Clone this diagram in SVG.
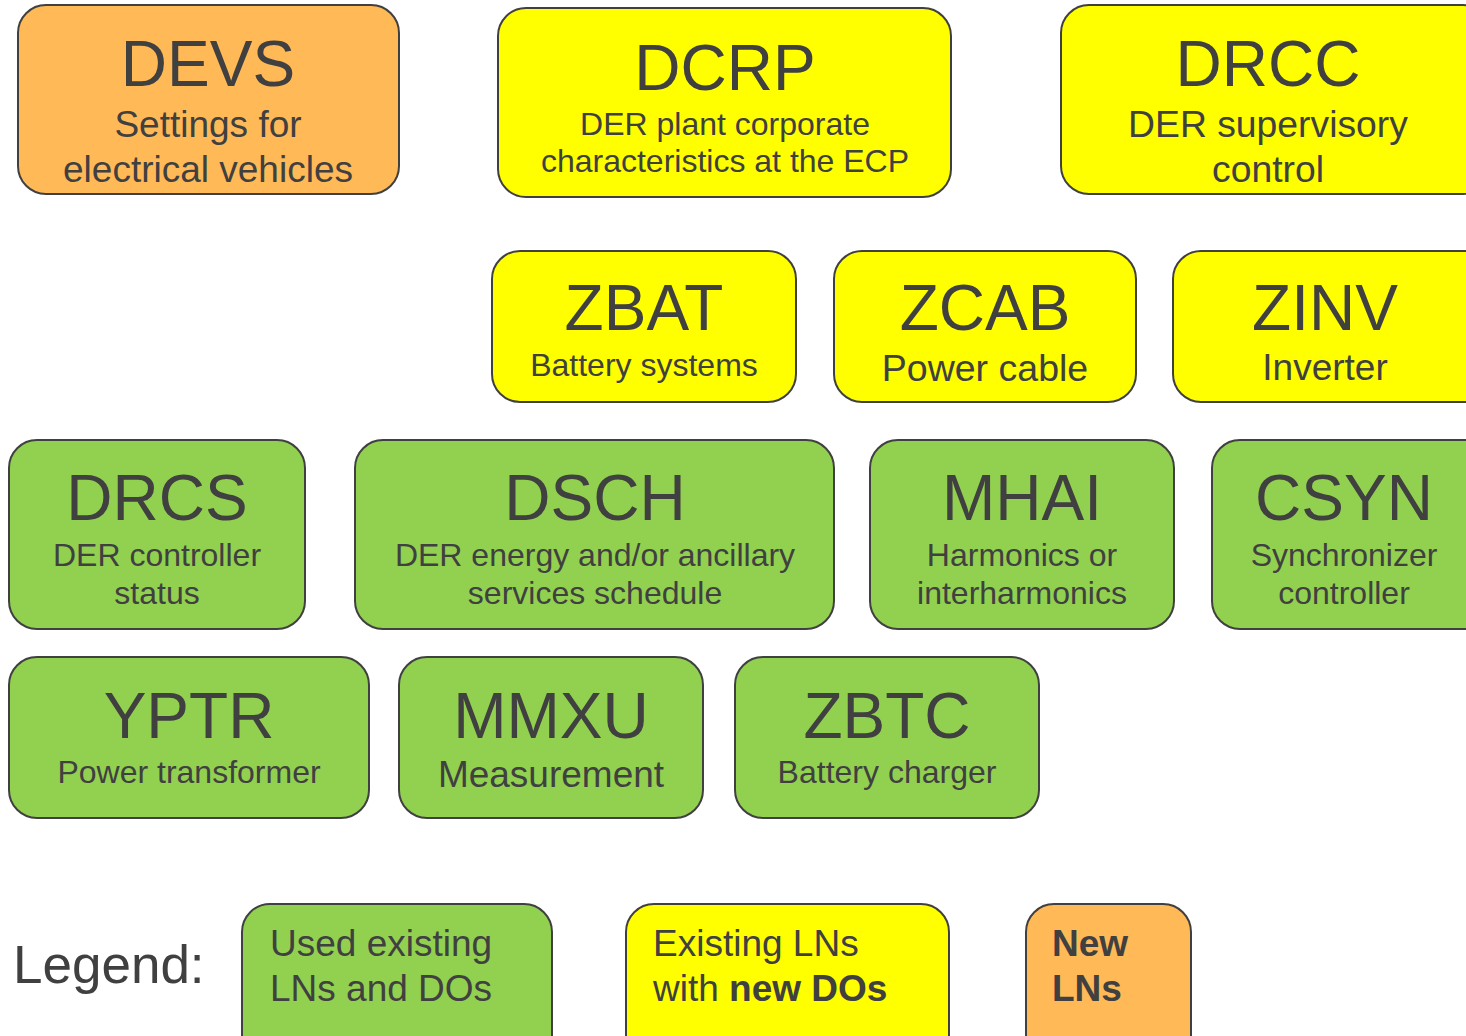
<svg xmlns="http://www.w3.org/2000/svg" width="1466" height="1036" viewBox="0 0 1466 1036">
<style>
.box{stroke:#404040;stroke-width:2}
.g{fill:#92D050}.y{fill:#FFFF00}.o{fill:#FFB957}
text{font-family:"Liberation Sans",Arial,sans-serif;fill:#404040}
.t{font-size:64px;text-anchor:middle}
.c{text-anchor:middle}
.b{font-weight:bold}
</style>
<rect width="1466" height="1036" fill="#fff"/>
<g id="DEVS"><rect class="box o" x="18" y="5" width="381" height="189" rx="28"/>
<text class="t" x="208" y="86">DEVS</text>
<text class="c" x="208" y="137" font-size="37">Settings for</text>
<text class="c" x="208" y="182" font-size="37">electrical vehicles</text></g>
<g id="DCRP"><rect class="box y" x="498" y="8" width="453" height="189" rx="28"/>
<text class="t" x="725" y="90">DCRP</text>
<text class="c" x="725" y="135" font-size="32">DER plant corporate</text>
<text class="c" x="725" y="172" font-size="32">characteristics at the ECP</text></g>
<g id="DRCC"><rect class="box y" x="1061" y="5" width="430" height="189" rx="28"/>
<text class="t" x="1268" y="86">DRCC</text>
<text class="c" x="1268" y="137" font-size="37.3">DER supervisory</text>
<text class="c" x="1268" y="182" font-size="37.3">control</text></g>
<g id="ZBAT"><rect class="box y" x="492" y="251" width="304" height="151" rx="28"/>
<text class="t" x="644" y="330">ZBAT</text>
<text class="c" x="644" y="376" font-size="32">Battery systems</text></g>
<g id="ZCAB"><rect class="box y" x="834" y="251" width="302" height="151" rx="28"/>
<text class="t" x="985" y="330">ZCAB</text>
<text class="c" x="985" y="381" font-size="37.5">Power cable</text></g>
<g id="ZINV"><rect class="box y" x="1173" y="251" width="320" height="151" rx="28"/>
<text class="t" x="1325" y="330">ZINV</text>
<text class="c" x="1325" y="380" font-size="37">Inverter</text></g>
<g id="DRCS"><rect class="box g" x="9" y="440" width="296" height="189" rx="28"/>
<text class="t" x="157" y="520">DRCS</text>
<text class="c" x="157" y="566" font-size="32">DER controller</text>
<text class="c" x="157" y="604" font-size="32">status</text></g>
<g id="DSCH"><rect class="box g" x="355" y="440" width="479" height="189" rx="28"/>
<text class="t" x="595" y="520">DSCH</text>
<text class="c" x="595" y="566" font-size="32">DER energy and/or ancillary</text>
<text class="c" x="595" y="604" font-size="32">services schedule</text></g>
<g id="MHAI"><rect class="box g" x="870" y="440" width="304" height="189" rx="28"/>
<text class="t" x="1022" y="520">MHAI</text>
<text class="c" x="1022" y="566" font-size="32">Harmonics or</text>
<text class="c" x="1022" y="604" font-size="32">interharmonics</text></g>
<g id="CSYN"><rect class="box g" x="1212" y="440" width="280" height="189" rx="28"/>
<text class="t" x="1344" y="520">CSYN</text>
<text class="c" x="1344" y="566" font-size="32">Synchronizer</text>
<text class="c" x="1344" y="604" font-size="32">controller</text></g>
<g id="YPTR"><rect class="box g" x="9" y="657" width="360" height="161" rx="28"/>
<text class="t" x="189" y="738">YPTR</text>
<text class="c" x="189" y="783" font-size="32">Power transformer</text></g>
<g id="MMXU"><rect class="box g" x="399" y="657" width="304" height="161" rx="28"/>
<text class="t" x="551" y="738">MMXU</text>
<text class="c" x="551" y="787" font-size="37">Measurement</text></g>
<g id="ZBTC"><rect class="box g" x="735" y="657" width="304" height="161" rx="28"/>
<text class="t" x="887" y="738">ZBTC</text>
<text class="c" x="887" y="783" font-size="32">Battery charger</text></g>
<g id="connectors"></g>
<g id="legend">
<text x="13" y="983" font-size="53">Legend:</text>
<g id="legend-used"><rect class="box g" x="242" y="904" width="310" height="160" rx="28"/>
<text x="270" y="956" font-size="37">Used existing</text>
<text x="270" y="1001" font-size="37">LNs and DOs</text></g>
<g id="legend-existing"><rect class="box y" x="626" y="904" width="323" height="160" rx="28"/>
<text x="653" y="956" font-size="37">Existing LNs</text>
<text x="653" y="1001" font-size="37">with <tspan class="b">new DOs</tspan></text></g>
<g id="legend-new"><rect class="box o" x="1026" y="904" width="165" height="160" rx="28"/>
<text class="b" x="1052" y="956" font-size="37">New</text>
<text class="b" x="1052" y="1001" font-size="37">LNs</text></g>
</g>
</svg>
